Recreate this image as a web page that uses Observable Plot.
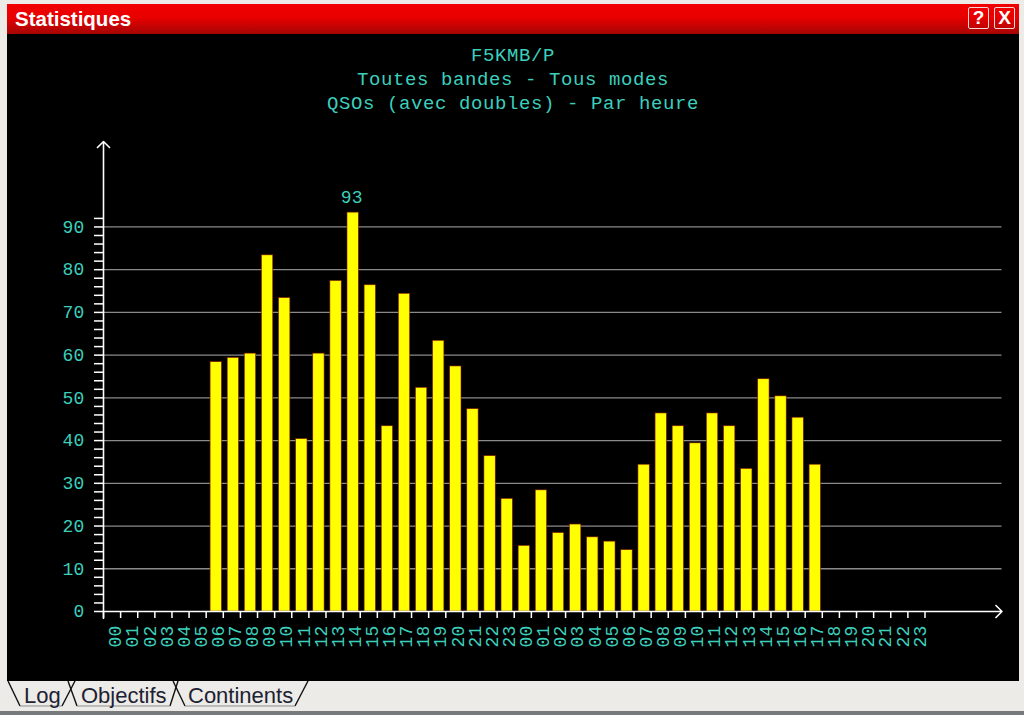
<!DOCTYPE html>
<html lang="fr">
<head>
<meta charset="utf-8">
<title>Statistiques</title>
<script src="https://cdn.jsdelivr.net/npm/d3@7"></script>
<script src="https://cdn.jsdelivr.net/npm/@observablehq/plot@0.6"></script>
<style>
html,body{margin:0;padding:0;background:#e9e7e3;overflow:hidden;width:1024px;height:715px}
#win{position:relative;width:1024px;height:715px;background:#ecebe7;overflow:hidden}
#bar{position:absolute;left:7px;top:4px;width:1012px;height:30px;background:linear-gradient(#f20000,#e80000 45%,#a50505);color:#fff;font:bold 20.5px "Liberation Sans",sans-serif;line-height:30px;text-indent:8px}
.btn{position:absolute;top:3px;width:19px;height:20px;border:1.5px solid #f4d8d8;border-radius:2px;font:bold 19px/20px "Liberation Sans",sans-serif;text-align:center;text-indent:0;color:#fff}
#panel{position:absolute;left:7px;top:34px;width:1012px;height:647px;background:#000}
#titles{height:91px;padding-top:10px;box-sizing:border-box;text-align:center;color:#3ccfbc;font:19px/24px "Liberation Mono",monospace;letter-spacing:.6px}
#panel svg{display:block}
#foot{position:absolute;left:0;top:711px;width:1024px;height:4px;background:#77797a}
#tabs{position:absolute;left:0;top:681px}
</style>
</head>
<body>
<div id="win">
  <div id="bar">Statistiques<span class="btn" style="left:961px">?</span><span class="btn" style="left:987px">X</span></div>
  <div id="panel">
    <div id="titles">
      <div>F5KMB/P</div>
      <div>Toutes bandes - Tous modes</div>
      <div>QSOs (avec doubles) - Par heure</div>
    </div>
    <div id="chart"></div>
  </div>
  <svg id="tabs" width="320" height="29" xmlns="http://www.w3.org/2000/svg">
    <g fill="none" stroke="#111" stroke-width="1.4">
      <polyline points="8,0 20,25"/>
      <polyline points="62,25 75,0"/>
      <polyline points="68,0 77,25"/>
      <polyline points="170,25 178,0"/>
      <polyline points="173,0 185,25"/>
      <polyline points="295,25 308,0"/>
    </g>
    <g fill="none" stroke="#8d8d8d" stroke-width="1">
      <polyline points="20,25 62,25"/>
      <polyline points="77,25 170,25"/>
      <polyline points="185,25 295,25"/>
    </g>
    <g fill="#1d2233" font-family="Liberation Sans, sans-serif" font-size="22">
      <text x="24" y="22">Log</text>
      <text x="81" y="22">Objectifs</text>
      <text x="188" y="22">Continents</text>
    </g>
  </svg>
  <div id="foot"></div>
</div>
<script>
const hourLabels = ["00","01","02","03","04","05","06","07","08","09","10","11","12","13","14","15","16","17","18","19","20","21","22","23",
                    "00","01","02","03","04","05","06","07","08","09","10","11","12","13","14","15","16","17","18","19","20","21","22","23"];
const firstSlot = 6;
const qsos = [58,59,60,83,73,40,60,77,93,76,43,74,52,63,57,47,36,26,15,28,18,20,17,16,14,34,46,43,39,46,43,33,54,50,45,34];
const gridValues = [10,20,30,40,50,60,70,80,90];
const yTicks = d3.range(0,93,2);

const rows = qsos.map((v,i)=>({slot:firstSlot+i, value:v}));
const peak = rows.filter(d=>d.value===d3.max(qsos));
const xEnd = 52.5, yEnd = 110;
const cyan = "#3ccfbc";

const chart = Plot.plot({
  width:1012, height:556,
  marginLeft:96, marginRight:17.5, marginTop:16, marginBottom:70,
  style:{background:"#000", fontFamily:"'Liberation Mono',monospace", fontSize:"18px", letterSpacing:"0.2px", overflow:"visible"},
  x:{type:"linear", domain:[0,xEnd]},
  y:{type:"linear", domain:[0,yEnd]},
  marks:[
    Plot.ruleY(gridValues,{x1:0,x2:xEnd,stroke:"#8a8a8a",strokeWidth:1.3}),
    Plot.rectY(rows,{x1:d=>d.slot,x2:d=>d.slot+1,y:"value",insetLeft:4.4,insetRight:1.4,insetTop:-1.5,fill:"#ffff00",stroke:"#8a1a00",strokeWidth:0.6}),
    Plot.text(peak,{x:d=>d.slot+0.5,y:"value",text:d=>String(d.value),dy:-17,fill:cyan,fontSize:18}),
    Plot.axisY({ticks:yTicks,tickSize:9,tickPadding:10,stroke:"#fff",strokeWidth:1.5,fill:cyan,strokeOpacity:1,tickFormat:d=>d%10?"":d,label:null}),
    Plot.axisX({ticks:d3.range(0,49),tickSize:7,stroke:"#fff",strokeWidth:1.5,strokeOpacity:1,tickFormat:()=>"",label:null}),
    Plot.axisX({ticks:d3.range(0,48).map(i=>i+0.5),tickSize:0,tickPadding:14,tickRotate:-90,dx:3.5,fill:cyan,tickFormat:d=>hourLabels[Math.floor(d)],label:null}),
    Plot.arrow([{a:0,b:xEnd}],{x1:"a",x2:"b",y1:0,y2:0,stroke:"#fff",strokeWidth:1.6,bend:0,headLength:8,headAngle:90}),
    Plot.arrow([{a:-1.6,b:yEnd}],{x1:0,x2:0,y1:"a",y2:"b",stroke:"#fff",strokeWidth:1.6,bend:0,headLength:8,headAngle:90})
  ]
});
document.getElementById("chart").appendChild(chart);
</script>
</body>
</html>
